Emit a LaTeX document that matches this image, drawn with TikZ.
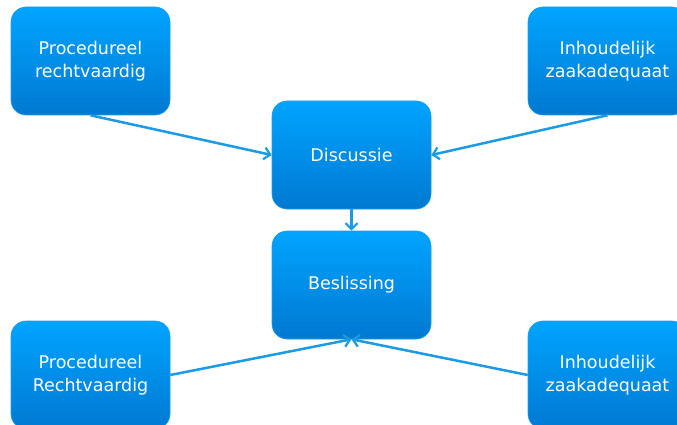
\documentclass[tikz,border=0pt]{standalone}
\usepackage{fontspec}
\setmainfont{DejaVu Sans}
\usetikzlibrary{arrows.meta}
\definecolor{boxtop}{HTML}{00A4FF}
\definecolor{boxbot}{HTML}{0079D2}
\definecolor{boxedge}{HTML}{1AA0F0}
\definecolor{arr}{HTML}{1A9BE6}
\tikzset{
  box/.style={rectangle, rounded corners=15pt, minimum width=159pt, minimum height=108pt,
    top color=boxtop, bottom color=boxbot, draw=boxedge, line width=0.6pt,
    text=white, align=center, inner sep=0pt,
    font=\fontsize{17.5}{22.5}\selectfont},
  conn/.style={draw=arr, line width=2.5pt, -{Straight Barb[length=6pt,width=12pt,line width=2.2pt]}}
}
\begin{document}
\begin{tikzpicture}[x=1pt,y=-1pt]
\useasboundingbox (0,0) rectangle (677,425);
\node[box] (tl) at (90.5,61) {Procedureel\\rechtvaardig};
\node[box] (tr) at (607.5,61) {Inhoudelijk\\zaakadequaat};
\node[box] (d) at (351.5,155) {Discussie};
\node[box] (b) at (351.5,285) {Beslissing};
\node[box] (bl) at (90.5,375) {Procedureel\\Rechtvaardig};
\node[box] (br) at (607.5,375) {Inhoudelijk\\zaakadequaat};
\draw[conn] (tl.south) -- (d.west);
\draw[conn] (tr.south) -- (d.east);
\draw[conn] (d.south) -- (b.north);
\draw[conn] (bl.east) -- (b.south);
\draw[conn] (br.west) -- (b.south);
\end{tikzpicture}
\end{document}
